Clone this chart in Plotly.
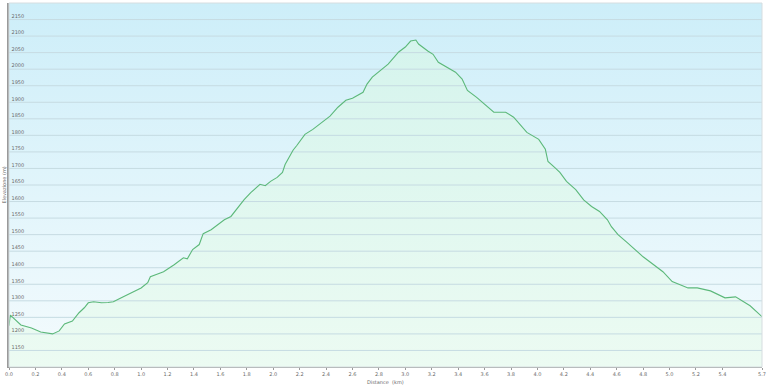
import plotly.graph_objects as go

distance_km = [0.00, 0.01, 0.09, 0.17, 0.24, 0.33, 0.38, 0.42, 0.48, 0.53, 0.57, 0.60, 0.64,
               0.70, 0.75, 0.79, 0.85, 0.92, 1.00, 1.05, 1.07, 1.13, 1.17, 1.25, 1.32, 1.35,
               1.39, 1.44, 1.47, 1.53, 1.59, 1.63, 1.68, 1.73, 1.78, 1.83, 1.90, 1.94, 1.98,
               2.03, 2.07, 2.09, 2.12, 2.15, 2.18, 2.24, 2.30, 2.36, 2.43, 2.49, 2.55, 2.60,
               2.68, 2.71, 2.75, 2.87, 2.95, 3.00, 3.04, 3.08, 3.10, 3.17, 3.21, 3.25, 3.32,
               3.38, 3.43, 3.47, 3.54, 3.67, 3.76, 3.82, 3.92, 4.01, 4.06, 4.08, 4.13, 4.17,
               4.22, 4.29, 4.35, 4.41, 4.47, 4.53, 4.56, 4.61, 4.68, 4.72, 4.80, 4.83, 4.95,
               5.02, 5.14, 5.21, 5.31, 5.42, 5.50, 5.61, 5.70]
elevation_m = [1225, 1257, 1227, 1218, 1206, 1200, 1209, 1230, 1239, 1264, 1279, 1294, 1297,
               1294, 1295, 1297, 1309, 1324, 1339, 1355, 1373, 1382, 1388, 1409, 1430, 1427,
               1455, 1470, 1503, 1515, 1533, 1545, 1555, 1582, 1606, 1627, 1652, 1648, 1661,
               1673, 1688, 1712, 1736, 1755, 1770, 1803, 1818, 1836, 1858, 1885, 1906, 1912,
               1930, 1955, 1976, 2015, 2052, 2067, 2085, 2088, 2076, 2055, 2045, 2021, 2006,
               1991, 1970, 1936, 1915, 1870, 1870, 1855, 1809, 1788, 1758, 1721, 1703, 1688,
               1661, 1636, 1605, 1585, 1570, 1545, 1524, 1500, 1476, 1461, 1433, 1424, 1388,
               1358, 1339, 1339, 1330, 1309, 1312, 1285, 1252]

x_tickvals = [0.0, 0.2, 0.4, 0.6, 0.8, 1.0, 1.2, 1.4, 1.6, 1.8, 2.0, 2.2, 2.4, 2.6, 2.8,
              3.0, 3.2, 3.4, 3.6, 3.8, 4.0, 4.2, 4.4, 4.6, 4.8, 5.0, 5.2, 5.4, 5.7]
x_ticktext = ["0.0", "0.2", "0.4", "0.6", "0.8", "1.0", "1.2", "1.4", "1.6", "1.8", "2.0",
              "2.2", "2.4", "2.6", "2.8", "3.0", "3.2", "3.4", "3.6", "3.8", "4.0", "4.2",
              "4.4", "4.6", "4.8", "5.0", "5.2", "5.4", "5.7"]
y_tickvals = list(range(1150, 2151, 50))

X_MIN, X_MAX = 0.0, 5.7
Y_MIN, Y_MAX = 1100, 2200
TXT = "#6a6a6a"

fig = go.Figure()

# background gradient (blue top -> near white bottom)
fig.add_trace(go.Scatter(
    x=[X_MIN, X_MAX, X_MAX, X_MIN, X_MIN], y=[Y_MIN, Y_MIN, Y_MAX, Y_MAX, Y_MIN],
    mode="none", fill="toself", hoverinfo="skip", showlegend=False,
    fillgradient=dict(type="vertical", start=Y_MIN, stop=Y_MAX,
                      colorscale=[[0, "#f4fbfd"], [1, "#cdeef9"]]),
))

# baseline for area fill
fig.add_trace(go.Scatter(x=[distance_km[0], distance_km[-1]], y=[Y_MIN, Y_MIN],
                         mode="lines", line=dict(width=0), hoverinfo="skip", showlegend=False))

# area under the profile
fig.add_trace(go.Scatter(
    x=distance_km, y=elevation_m, mode="none", fill="tonexty",
    hoverinfo="skip", showlegend=False,
    fillgradient=dict(type="vertical", start=Y_MIN, stop=2100,
                      colorscale=[[0, "#ecfbf2"], [1, "#d5f4ed"]]),
))

# horizontal grid lines (drawn over the fills)
gx, gy = [], []
for v in y_tickvals:
    gx += [X_MIN, X_MAX, None]
    gy += [v, v, None]
fig.add_trace(go.Scatter(x=gx, y=gy, mode="lines", hoverinfo="skip", showlegend=False,
                         line=dict(color="#c6dbe2", width=1)))

# elevation profile line
fig.add_trace(go.Scatter(
    x=distance_km, y=elevation_m, mode="lines",
    line=dict(color="#5cb87a", width=1.1), showlegend=False,
))

fig.update_layout(
    width=768, height=386,
    margin=dict(l=9, r=6, t=3, b=19),
    paper_bgcolor="white", plot_bgcolor="white",
    font=dict(family="DejaVu Sans", size=5, color=TXT),
    xaxis=dict(range=[X_MIN, X_MAX], tickvals=x_tickvals, ticktext=x_ticktext,
               showgrid=False, zeroline=False, showline=True, linecolor="#9a9a9a",
               linewidth=1, ticks="outside", ticklen=2, tickcolor="#9a9a9a",
               ticklabeloverflow="allow",
               tickfont=dict(size=5, color=TXT)),
    yaxis=dict(range=[Y_MIN, Y_MAX], tickvals=y_tickvals,
               showgrid=False, zeroline=False,
               showline=True, linecolor="#9a9a9a", linewidth=1.5,
               ticklabelposition="inside top", ticks="", ticklabeloverflow="allow",
               tickfont=dict(size=5, color=TXT)),
    shapes=[dict(type="rect", xref="paper", yref="paper", x0=0, x1=1, y0=0, y1=1,
                 line=dict(color="#d6dde0", width=1), fillcolor="rgba(0,0,0,0)", layer="above")],
    annotations=[
        dict(text="Distance  (km)", xref="paper", yref="paper", x=0.5, y=-0.042,
             xanchor="center", yanchor="middle", showarrow=False,
             font=dict(size=5, color=TXT)),
        dict(text="Elevazione (m)", xref="paper", yref="paper", x=-0.0072, y=0.5,
             xanchor="center", yanchor="middle", showarrow=False, textangle=-90,
             font=dict(size=5, color=TXT)),
    ],
)

fig.write_html("out.html")
